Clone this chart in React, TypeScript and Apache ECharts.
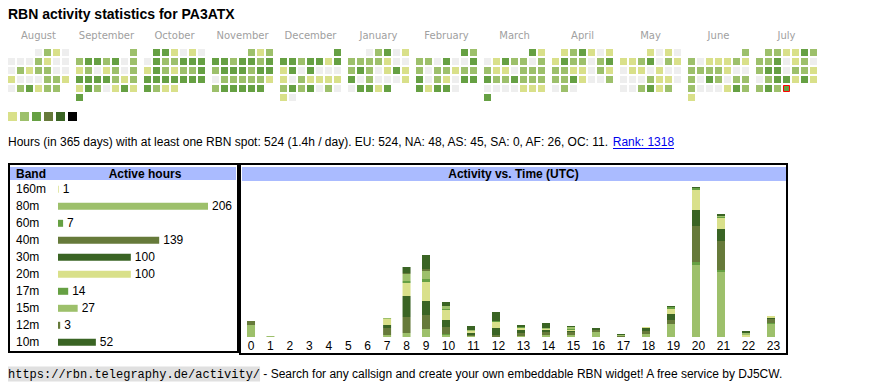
import React, { useEffect, useRef } from "react";
import * as echarts from "echarts";

const SANS = "'Liberation Sans', Arial, Helvetica, sans-serif";
const VERD = "'DejaVu Sans', Verdana, sans-serif";
const MONO = "'Liberation Mono', 'DejaVu Sans Mono', monospace";

// ---- calendar (activity level per day) ----
const monthNames = ["August", "September", "October", "November", "December", "January", "February", "March", "April", "May", "June", "July"];
const monthKeys = ["2024-08", "2024-09", "2024-10", "2024-11", "2024-12", "2025-01", "2025-02", "2025-03", "2025-04", "2025-05", "2025-06", "2025-07"];
const aug2024 = [0, 2, 1, 0, 0, 0, 0, 2, 1, 0, 0, 0, 2, 1, 2, 2, 0, 0, 1, 0, 0, 0, 2, 2, 1, 0, 2, 3, 1, 2, 2];
const sep2024 = [2, 2, 3, 3, 2, 3, 0, 2, 1, 2, 0, 1, 2, 0, 2, 3, 3, 3, 3, 2, 1, 2, 1, 3, 2, 0, 1, 3, 1, 3];
const oct2024 = [3, 3, 1, 0, 1, 0, 0, 3, 2, 2, 3, 3, 3, 1, 3, 2, 1, 2, 2, 3, 3, 3, 3, 3, 3, 3, 3, 3, 2, 1, 1];
const nov2024 = [2, 1, 2, 3, 3, 2, 3, 3, 2, 3, 2, 3, 3, 3, 2, 3, 3, 0, 2, 2, 2, 2, 2, 1, 2, 3, 3, 3, 3, 3];
const dec2024 = [3, 3, 3, 2, 3, 3, 1, 3, 1, 3, 0, 3, 0, 0, 0, 1, 0, 2, 1, 1, 1, 1, 2, 3, 2, 3, 0, 2, 0, 1, 0];
const jan2025 = [0, 2, 3, 0, 1, 2, 2, 2, 2, 1, 0, 0, 2, 3, 2, 0, 1, 3, 1, 3, 0, 2, 0, 0, 0, 1, 0, 3, 3, 1, 3];
const feb2025 = [3, 2, 2, 2, 0, 3, 0, 0, 3, 2, 0, 2, 2, 1, 2, 2, 3, 0, 2, 1, 0, 3, 3, 3, 1, 3, 3, 0];
const mar2025 = [3, 1, 0, 1, 3, 2, 2, 0, 2, 2, 1, 1, 0, 2, 2, 2, 3, 2, 2, 3, 2, 2, 2, 0, 0, 0, 0, 1, 1, 1, 3];
const apr2025 = [1, 2, 3, 1, 0, 1, 1, 3, 2, 2, 0, 2, 3, 2, 2, 1, 1, 0, 2, 1, 2, 2, 3, 1, 0, 0, 2, 0, 2, 0];
const may2025 = [1, 0, 1, 0, 1, 1, 2, 3, 0, 2, 1, 0, 1, 1, 0, 1, 0, 0, 0, 0, 0, 2, 1, 1, 0, 0, 0, 2, 3, 1, 2];
const jun2025 = [2, 2, 0, 1, 1, 1, 2, 1, 2, 2, 2, 2, 1, 0, 0, 2, 0, 3, 2, 0, 2, 2, 2, 0, 0, 0, 1, 3, 2, 1];
const jul2025 = [2, 2, 1, 1, 3, 2, 2, 2, 3, 0, 1, 2, 0, 2, 3, 3, 0, 2, 2, 1, 0, 2, 3, 3, 1, 3, 1, 2, 3, 2, 3];
const monthLevels = [aug2024, sep2024, oct2024, nov2024, dec2024, jan2025, feb2025, mar2025, apr2025, may2025, jun2025, jul2025];
const todayDate = "2025-07-31";
const legendLevels = [1, 2, 3, 4, 5, 6];
const levelColors = ["#d9e08a", "#9dc06b", "#66a043", "#667a3a", "#3a6424", "#000000"];

// ---- bands ----
const bands = ["160m", "80m", "60m", "40m", "30m", "20m", "17m", "15m", "12m", "10m"];
const bandHours = [1, 206, 7, 139, 100, 100, 14, 27, 3, 52];
const bandColors = ["#d9e08a", "#9dc06b", "#66a043", "#667a3a", "#3a6424", "#d9e08a", "#66a043", "#9dc06b", "#667a3a", "#3a6424"];

// ---- activity vs time (UTC), per band ----
const utcHours = ["0", "1", "2", "3", "4", "5", "6", "7", "8", "9", "10", "11", "12", "13", "14", "15", "16", "17", "18", "19", "20", "21", "22", "23"];
const h160m = [0, 0, 0, 0, 0, 0, 0, 0, 0, 0, 0, 0, 0, 0, 0, 0, 0, 0, 0, 0, 0, 0, 1, 0];
const h80m = [12, 1, 0, 0, 0, 0, 0, 2, 4, 8, 2, 1, 0, 1, 2, 2, 5, 0, 3, 13, 72, 65, 0, 13];
const h60m = [0, 0, 0, 0, 0, 0, 0, 0, 0, 0, 1, 0, 0, 0, 0, 0, 0, 0, 0, 0, 3, 2, 0, 1];
const h40m = [4, 0, 0, 0, 0, 0, 0, 7, 16, 14, 7, 1, 2, 3, 3, 3, 2, 1, 3, 4, 36, 29, 0, 4];
const h30m = [0, 0, 0, 0, 0, 0, 0, 3, 21, 14, 7, 2, 7, 3, 2, 1, 2, 0, 3, 6, 16, 12, 0, 1];
const h20m = [0, 0, 0, 0, 0, 0, 0, 6, 13, 19, 10, 2, 6, 2, 1, 1, 0, 0, 1, 5, 20, 11, 1, 2];
const h17m = [0, 0, 0, 0, 0, 0, 0, 0, 2, 3, 1, 0, 1, 1, 0, 1, 0, 0, 0, 2, 2, 1, 0, 0];
const h15m = [0, 0, 0, 0, 0, 0, 0, 1, 7, 8, 3, 1, 0, 0, 1, 2, 0, 1, 0, 0, 0, 1, 2, 0];
const h12m = [0, 0, 0, 0, 0, 0, 0, 0, 1, 2, 0, 0, 0, 0, 0, 0, 0, 0, 0, 0, 0, 0, 0, 0];
const h10m = [0, 0, 0, 0, 0, 0, 0, 0, 6, 14, 4, 4, 9, 2, 5, 1, 0, 1, 0, 1, 1, 2, 2, 0];
const hourlyByBand = [h160m, h80m, h60m, h40m, h30m, h20m, h17m, h15m, h12m, h10m];
const splitHour = 10; // one-digit hours occupy narrower table columns

const titleText = "RBN activity statistics for PA3ATX";
const infoText = "Hours (in 365 days) with at least one RBN spot: 524 (1.4h / day). EU: 524, NA: 48, AS: 45, SA: 0, AF: 26, OC: 11. ";
const rankText = "Rank: 1318";
const footerUrl = "https://rbn.telegraphy.de/activity/";
const footerText = " - Search for any callsign and create your own embeddable RBN widget! A free service by DJ5CW.";

function buildOption() {
  const calLeft0 = 7;
  const calPitch = 68;
  const calTop = 48;

  const calendars = monthKeys.map((key, i) => ({
    orient: "vertical",
    range: key,
    left: calLeft0 + calPitch * i,
    top: calTop,
    cellSize: [9, 9],
    dayLabel: { show: false, firstDay: 1 },
    monthLabel: { show: false },
    yearLabel: { show: false },
    splitLine: { show: false },
    itemStyle: { color: "transparent", borderWidth: 0 },
  }));

  const calSeries = monthKeys.map((key, i) => ({
    type: "scatter",
    coordinateSystem: "calendar",
    calendarIndex: i,
    symbol: "rect",
    symbolSize: 7,
    silent: true,
    itemStyle: { opacity: 1 },
    data: monthLevels[i].map((lvl, d) => {
      const date = `${key}-${String(d + 1).padStart(2, "0")}`;
      if (date === todayDate) {
        return { value: [date, lvl], symbolSize: 6, itemStyle: { borderColor: "#ff0000", borderWidth: 1 } };
      }
      return [date, lvl];
    }),
  }));

  const bandSeries = {
    type: "bar",
    xAxisIndex: 0,
    yAxisIndex: 0,
    barWidth: 7,
    silent: true,
    data: bandHours.map((v, i) => ({ value: v, itemStyle: { color: bandColors[i] } })),
    label: { show: true, position: "right", distance: 4, fontSize: 12, color: "#000", fontFamily: SANS },
  };

  const hourSeries: any[] = [];
  bands.forEach((b, bi) => {
    hourSeries.push({
      type: "bar", name: b, xAxisIndex: 1, yAxisIndex: 1, stack: "early", barWidth: 8, silent: true,
      itemStyle: { color: bandColors[bi] }, data: hourlyByBand[bi].slice(0, splitHour),
    });
    hourSeries.push({
      type: "bar", name: b, xAxisIndex: 2, yAxisIndex: 2, stack: "late", barWidth: 8, silent: true,
      itemStyle: { color: bandColors[bi] }, data: hourlyByBand[bi].slice(splitHour),
    });
  });

  const hourAxisLabel = { fontSize: 12, color: "#000", fontFamily: SANS, margin: 3 };

  const graphics: any[] = [
    { type: "text", left: 8, top: 7, style: { text: titleText, font: `bold 14px ${SANS}`, fill: "#000" } },
    ...monthNames.map((m, i) => ({
      type: "text",
      x: calLeft0 + calPitch * i + 31.5,
      y: 35,
      style: { text: m, font: `10px ${VERD}`, fill: "#a0a0a0", textAlign: "center", textVerticalAlign: "middle" },
    })),
    {
      type: "text", x: 8, y: 142,
      style: {
        text: infoText + "{link|" + rankText + "}",
        font: `12px ${SANS}`, fill: "#000", textVerticalAlign: "middle",
        rich: { link: { fill: "#0000ee", color: "#0000ee", fontSize: 12, fontFamily: SANS } },
      },
    },
    { type: "line", shape: { x1: 613, y1: 148.5, x2: 674, y2: 148.5 }, style: { stroke: "#0000ee", lineWidth: 1 } },
    // band table
    { type: "rect", shape: { x: 10, y: 167, width: 226, height: 13 }, style: { fill: "#aabbff" } },
    { type: "rect", shape: { x: 9, y: 164, width: 229, height: 188 }, style: { fill: "none", stroke: "#000", lineWidth: 2 } },
    { type: "text", x: 16, y: 173.5, style: { text: "Band", font: `bold 12px ${SANS}`, fill: "#000", textVerticalAlign: "middle" } },
    { type: "text", x: 145, y: 173.5, style: { text: "Active hours", font: `bold 12px ${SANS}`, fill: "#000", textAlign: "center", textVerticalAlign: "middle" } },
    // activity table
    { type: "rect", shape: { x: 242, y: 167, width: 544, height: 14 }, style: { fill: "#aabbff" } },
    { type: "rect", shape: { x: 240, y: 164, width: 547, height: 190 }, style: { fill: "none", stroke: "#000", lineWidth: 2 } },
    { type: "text", x: 513.5, y: 173.5, style: { text: "Activity vs. Time (UTC)", font: `bold 12px ${SANS}`, fill: "#000", textAlign: "center", textVerticalAlign: "middle" } },
    // footer
    {
      type: "text", x: 8, y: 374,
      style: {
        text: "{code|" + footerUrl + "}{rest|" + footerText + "}",
        textVerticalAlign: "middle",
        rich: {
          code: { fontFamily: MONO, fontSize: 12, color: "#333", backgroundColor: "#e0e0e0", padding: [2, 0, 1, 0] },
          rest: { fontFamily: SANS, fontSize: 12, color: "#000" },
        },
      },
    },
  ];

  return {
    animation: false,
    calendar: calendars,
    visualMap: {
      type: "piecewise",
      seriesIndex: calSeries.map((_, i) => i),
      dimension: 1,
      orient: "horizontal",
      left: 8,
      top: 112,
      padding: 0,
      itemWidth: 9,
      itemHeight: 9,
      itemGap: 3,
      itemSymbol: "rect",
      showLabel: false,
      selectedMode: false,
      hoverLink: false,
      pieces: legendLevels.map((v, i) => ({ value: v, color: levelColors[i] })),
      outOfRange: { color: "#eeeeee" },
    },
    grid: [
      { left: 58, top: 180.8, width: 150, height: 170 },
      { left: 241.3, top: 187, width: 194.4, height: 150 },
      { left: 433.5, top: 187, width: 350, height: 150 },
    ],
    xAxis: [
      { type: "value", gridIndex: 0, min: 0, max: 206, show: false },
      {
        type: "category", gridIndex: 1, data: utcHours.slice(0, splitHour),
        axisLine: { show: false }, axisTick: { show: false }, axisLabel: hourAxisLabel,
      },
      {
        type: "category", gridIndex: 2, data: utcHours.slice(splitHour),
        axisLine: { show: false }, axisTick: { show: false }, axisLabel: { ...hourAxisLabel, padding: [0, 0, 0, 5] },
      },
    ],
    yAxis: [
      {
        type: "category", gridIndex: 0, data: bands, inverse: true,
        axisLine: { show: false }, axisTick: { show: false },
        axisLabel: { align: "left", margin: 42, fontSize: 12, color: "#000", fontFamily: SANS },
      },
      { type: "value", gridIndex: 1, min: 0, max: 150, show: false },
      { type: "value", gridIndex: 2, min: 0, max: 150, show: false },
    ],
    series: [...calSeries, bandSeries, ...hourSeries],
    graphic: graphics,
  };
}

export default function App() {
  const ref = useRef<HTMLDivElement>(null);
  useEffect(() => {
    if (!ref.current) return;
    const chart = echarts.init(ref.current, undefined, { renderer: "svg" });
    chart.setOption(buildOption() as any);
    return () => chart.dispose();
  }, []);
  return <div ref={ref} style={{ position: "absolute", left: 0, top: 0, width: 870, height: 390, background: "#fff" }} />;
}
